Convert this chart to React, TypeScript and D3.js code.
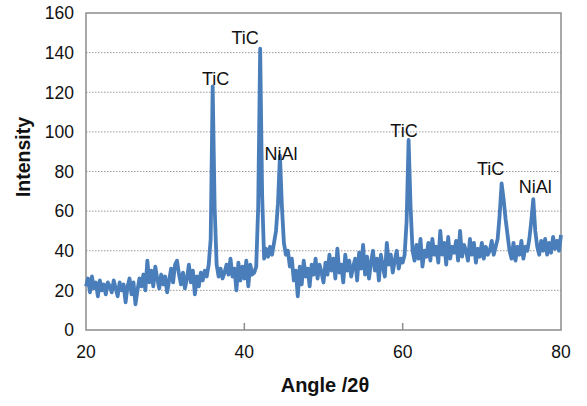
import React, { useRef, useEffect } from 'react'
import * as d3 from 'd3'

// XRD scan, 20°..80° in 0.25° steps
const angleStart = 20
const angleStep = 0.25
const intensity = [
  // 20.00 - 24.75
  22, 26, 19, 27, 21, 24, 17, 25, 20, 23, 18, 24, 22, 19, 25, 21, 17, 24, 20, 23,
  // 25.00 - 29.75
  14, 22, 26, 18, 24, 13, 20, 26, 22, 28, 20, 35, 24, 30, 22, 32, 26, 21, 28, 23,
  // 30.00 - 34.75
  27, 19, 25, 31, 24, 33, 35, 28, 23, 29, 21, 26, 33, 24, 30, 18, 27, 22, 29, 25,
  // 35.00 - 39.75
  30, 27, 33, 46, 123, 62, 33, 27, 31, 26, 29, 33, 28, 36, 27, 31, 20, 34, 25, 32,
  // 40.00 - 44.75
  26, 35, 22, 33, 28, 29, 32, 62, 142, 68, 36, 41, 37, 42, 38, 44, 50, 64, 88, 62,
  // 45.00 - 49.75
  44, 38, 40, 32, 36, 25, 30, 17, 32, 23, 35, 27, 31, 22, 33, 28, 36, 26, 33, 29,
  // 50.00 - 54.75
  24, 34, 28, 38, 30, 36, 26, 41, 29, 33, 24, 38, 30, 35, 27, 32, 36, 25, 39, 31,
  // 55.00 - 59.75
  43, 28, 37, 26, 34, 40, 30, 36, 25, 38, 32, 27, 44, 33, 38, 29, 35, 40, 31, 36,
  // 60.00 - 64.75
  34, 38, 55, 96, 62, 40, 35, 43, 36, 46, 32, 40, 37, 44, 35, 46, 38, 42, 34, 50,
  // 65.00 - 69.75
  38, 44, 33, 47, 36, 42, 39, 45, 35, 50, 37, 43, 40, 35, 46, 38, 44, 34, 41, 37,
  // 70.00 - 74.75
  44, 36, 42, 38, 40, 45, 38, 42, 46, 58, 74, 66, 56, 48, 40, 36, 44, 35, 42, 38,
  // 75.00 - 79.75
  45, 36, 42, 40, 46, 55, 66, 50, 42, 38, 45, 40, 46, 38, 44, 39, 47, 41, 45, 40,
  // 80.00
  48,
]

const xTicks = [20, 40, 60, 80]
const yTicks = [0, 20, 40, 60, 80, 100, 120, 140, 160]

const peakLabels = ['TiC', 'TiC', 'NiAl', 'TiC', 'TiC', 'NiAl']
const peakAngles = [36.0, 42.0, 44.5, 60.8, 72.5, 76.5]
const peakHeights = [123, 142, 88, 96, 74, 66]

export default function App() {
  const ref = useRef<SVGSVGElement | null>(null)

  useEffect(() => {
    const el = ref.current
    if (!el) return
    const svg = d3.select(el)
    svg.selectAll('*').remove()

    const width = 587
    const height = 406
    const m = { left: 86, right: 26, top: 13, bottom: 76 }

    const x = d3.scaleLinear().domain([20, 80]).range([m.left, width - m.right])
    const y = d3.scaleLinear().domain([0, 160]).range([height - m.bottom, m.top])

    const font = 'Liberation Sans, Arial, sans-serif'

    // dotted gridlines
    svg.append('g')
      .selectAll('line')
      .data(yTicks.filter(t => t > 0 && t < 160))
      .join('line')
      .attr('x1', x(20)).attr('x2', x(80))
      .attr('y1', d => y(d)).attr('y2', d => y(d))
      .attr('stroke', '#9a9a9a')
      .attr('stroke-width', 1)
      .attr('stroke-dasharray', '1.5,1.5')

    // plot frame
    svg.append('rect')
      .attr('x', x(20)).attr('y', y(160))
      .attr('width', x(80) - x(20)).attr('height', y(0) - y(160))
      .attr('fill', 'none')
      .attr('stroke', '#8c8c8c')
      .attr('stroke-width', 1.5)

    // x ticks (inside)
    svg.append('g')
      .selectAll('line')
      .data(xTicks.slice(1, -1))
      .join('line')
      .attr('x1', d => x(d)).attr('x2', d => x(d))
      .attr('y1', y(0)).attr('y2', y(0) - 7)
      .attr('stroke', '#8c8c8c')
      .attr('stroke-width', 1.5)

    // data line
    const pts = intensity.map((v, i) => [angleStart + i * angleStep, v] as [number, number])
    svg.append('path')
      .datum(pts)
      .attr('fill', 'none')
      .attr('stroke', '#4a7ebb')
      .attr('stroke-width', 3.8)
      .attr('stroke-linejoin', 'round')
      .attr('d', d3.line<[number, number]>().x(d => x(d[0])).y(d => y(d[1])))

    // tick labels
    svg.append('g')
      .selectAll('text')
      .data(yTicks)
      .join('text')
      .attr('x', m.left - 12)
      .attr('y', d => y(d))
      .attr('dy', '0.36em')
      .attr('text-anchor', 'end')
      .attr('font-family', font)
      .attr('font-size', 17.5)
      .attr('fill', '#111')
      .text(d => d)

    svg.append('g')
      .selectAll('text')
      .data(xTicks)
      .join('text')
      .attr('x', d => x(d))
      .attr('y', y(0) + 28)
      .attr('text-anchor', 'middle')
      .attr('font-family', font)
      .attr('font-size', 17.5)
      .attr('fill', '#111')
      .text(d => d)

    // peak annotations, nudged in pixels relative to each peak top
    const nudgeX = [3, -15, 1, -5, -11, 2]
    const nudgeY = [-1, -5, 4, -3, -8, -6]
    svg.append('g')
      .selectAll('text')
      .data(peakLabels)
      .join('text')
      .attr('x', (d, i) => x(peakAngles[i]) + nudgeX[i])
      .attr('y', (d, i) => y(peakHeights[i]) + nudgeY[i])
      .attr('text-anchor', 'middle')
      .attr('font-family', font)
      .attr('font-size', 18)
      .attr('fill', '#111')
      .text(d => d)

    // axis titles
    svg.append('text')
      .attr('x', 325)
      .attr('y', 392)
      .attr('text-anchor', 'middle')
      .attr('font-family', font)
      .attr('font-weight', 'bold')
      .attr('font-size', 20)
      .attr('fill', '#111')
      .text('Angle /2θ')

    svg.append('text')
      .attr('transform', `translate(30,157) rotate(-90)`)
      .attr('text-anchor', 'middle')
      .attr('font-family', font)
      .attr('font-weight', 'bold')
      .attr('font-size', 19.5)
      .attr('fill', '#111')
      .text('Intensity')
  }, [])

  return (
    <svg
      ref={ref}
      width={587}
      height={406}
      style={{ position: 'absolute', left: 0, top: 0, background: '#fff' }}
    />
  )
}
